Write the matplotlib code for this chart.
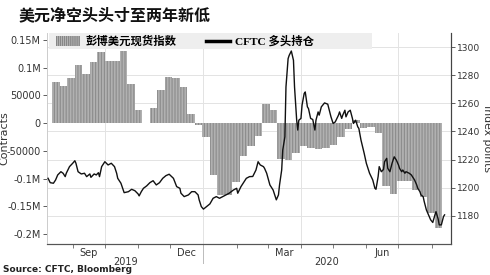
import matplotlib
matplotlib.use("Agg")
import matplotlib.pyplot as plt
import matplotlib.dates as mdates
import matplotlib.transforms as mtransforms
from matplotlib.patches import Patch, Rectangle
from matplotlib.lines import Line2D
import pandas as pd

# ---------------- data ----------------
title = "美元净空头头寸至两年新低"
source = "Source: CFTC, Bloomberg"
bar_label = "彭博美元现货指数"
line_label = "CFTC 多头持仓"

# weekly bars (contracts), first week starts 2019-08-13
bar_start = "2019-08-13"
bar_values = [74500, 67300, 80700, 104900, 88500, 109800, 129100, 112700, 112700, 130900,
              70900, 24400, 500, 28000, 59500, 83600, 80700, 65500, 15800, -4000,
              -25500, -94000, -130000, -130000, -107000, -59000, -42000, -23000, 34000, 24400,
              -64700, -66500, -54000, -42000, -44000, -46500, -45500, -39000, -25000, -10000,
              6000, -8400, -7300, -18200, -113000, -127000, -104000, -104000, -121000, -133000,
              -161700, -189000]
bar_dates = pd.date_range(bar_start, periods=len(bar_values), freq="7D")

line_dates = [
    "2019-08-09", "2019-08-11", "2019-08-14", "2019-08-16", "2019-08-18", "2019-08-21",
    "2019-08-23", "2019-08-25", "2019-08-26", "2019-08-29", "2019-09-01", "2019-09-03",
    "2019-09-04", "2019-09-06", "2019-09-09", "2019-09-12", "2019-09-14", "2019-09-17",
    "2019-09-18", "2019-09-21", "2019-09-23", "2019-09-25", "2019-09-26", "2019-09-28",
    "2019-10-01", "2019-10-04", "2019-10-07", "2019-10-10", "2019-10-12", "2019-10-13",
    "2019-10-16", "2019-10-19", "2019-10-23", "2019-10-26", "2019-10-29", "2019-11-01",
    "2019-11-02", "2019-11-04", "2019-11-06", "2019-11-09", "2019-11-12", "2019-11-15",
    "2019-11-18", "2019-11-21", "2019-11-24", "2019-11-27", "2019-11-30", "2019-12-04",
    "2019-12-07", "2019-12-10", "2019-12-11", "2019-12-14", "2019-12-18", "2019-12-21",
    "2019-12-24", "2019-12-27", "2019-12-28", "2019-12-30", "2020-01-01", "2020-01-04",
    "2020-01-07", "2020-01-10", "2020-01-13", "2020-01-16", "2020-01-19", "2020-01-22",
    "2020-01-25", "2020-01-29", "2020-02-01", "2020-02-02", "2020-02-05", "2020-02-10",
    "2020-02-13", "2020-02-16", "2020-02-19", "2020-02-21", "2020-02-23", "2020-02-26",
    "2020-02-27", "2020-02-29", "2020-03-03", "2020-03-06", "2020-03-09", "2020-03-11",
    "2020-03-12", "2020-03-14", "2020-03-15", "2020-03-17", "2020-03-18", "2020-03-20",
    "2020-03-21", "2020-03-23", "2020-03-25", "2020-03-26", "2020-03-28", "2020-03-29",
    "2020-03-30", "2020-04-01", "2020-04-02", "2020-04-04", "2020-04-05", "2020-04-07",
    "2020-04-08", "2020-04-10", "2020-04-12", "2020-04-14", "2020-04-15", "2020-04-17",
    "2020-04-18", "2020-04-20", "2020-04-23", "2020-04-26", "2020-04-29", "2020-05-01",
    "2020-05-03", "2020-05-06", "2020-05-07", "2020-05-09", "2020-05-10", "2020-05-12",
    "2020-05-13", "2020-05-15", "2020-05-17", "2020-05-19", "2020-05-20", "2020-05-22",
    "2020-05-24", "2020-05-25", "2020-05-27", "2020-05-30", "2020-06-01", "2020-06-04",
    "2020-06-07", "2020-06-09", "2020-06-10", "2020-06-12", "2020-06-13", "2020-06-15",
    "2020-06-17", "2020-06-18", "2020-06-20", "2020-06-21", "2020-06-23", "2020-06-25",
    "2020-06-27", "2020-06-29", "2020-07-01", "2020-07-02", "2020-07-04", "2020-07-05",
    "2020-07-07", "2020-07-08", "2020-07-11", "2020-07-13", "2020-07-15", "2020-07-16",
    "2020-07-18", "2020-07-19", "2020-07-21", "2020-07-22", "2020-07-24", "2020-07-25",
    "2020-07-27", "2020-07-29", "2020-07-31", "2020-08-02", "2020-08-04", "2020-08-05",
    "2020-08-07", "2020-08-08", "2020-08-10", "2020-08-12", "2020-08-13"]
line_values = [
    1206.7, 1203.6, 1203.2, 1205.5, 1209.1, 1211.4,
    1210.3, 1207.9, 1210.3, 1215.0, 1217.4, 1219.2,
    1217.4, 1211.4, 1209.8, 1210.3, 1207.9, 1209.8,
    1207.4, 1209.8, 1209.1, 1210.7, 1207.9, 1215.0,
    1218.5, 1216.2, 1217.4, 1215.0, 1210.3, 1206.7,
    1203.2, 1196.5, 1197.2, 1198.9, 1197.9, 1195.6,
    1194.2, 1197.2, 1199.6, 1201.3, 1203.6, 1205.0,
    1202.0, 1203.6, 1206.7, 1208.6, 1209.6, 1206.7,
    1200.8, 1199.6, 1196.1, 1193.7, 1194.9, 1197.2,
    1197.2, 1194.9, 1191.4, 1186.6, 1184.8, 1186.6,
    1188.5, 1192.5, 1193.7, 1192.5, 1193.7, 1194.9,
    1196.1, 1198.4, 1199.6, 1196.1, 1200.8, 1206.7,
    1207.9, 1208.0, 1212.6, 1218.5, 1216.2, 1215.0,
    1213.8, 1210.3, 1202.0, 1198.4, 1191.4, 1194.9,
    1202.0, 1212.6, 1226.8, 1236.2, 1271.6, 1291.8,
    1294.1, 1297.2, 1290.6, 1271.6, 1248.0, 1241.0,
    1248.0, 1249.3, 1258.7, 1267.0, 1268.1, 1257.5,
    1256.3, 1249.3, 1248.5, 1241.0, 1248.0, 1253.9,
    1251.6, 1257.5, 1260.3, 1259.4, 1250.4, 1245.7,
    1246.8, 1251.6, 1253.9, 1249.3, 1251.6, 1255.1,
    1250.4, 1253.9, 1255.1, 1249.3, 1245.7, 1248.0,
    1243.3, 1242.2, 1233.9, 1224.4, 1217.4, 1210.3,
    1205.5, 1199.6, 1198.9, 1207.9, 1215.0, 1211.4,
    1213.0, 1218.5, 1220.9, 1213.8, 1211.4, 1217.4,
    1222.0, 1219.7, 1216.2, 1213.8, 1211.4, 1212.6,
    1210.3, 1211.4, 1210.3, 1209.1, 1206.7, 1205.5,
    1202.0, 1199.6, 1197.2, 1194.9, 1193.7, 1190.2,
    1184.3, 1180.7, 1177.2, 1175.3, 1180.7, 1183.0,
    1177.8, 1173.6, 1173.6, 1179.5, 1180.7]

left_ticks = [150000, 100000, 50000, 0, -50000, -100000, -150000, -200000]
left_ticklabels = ["0.15M", "0.1M", "50000", "0", "-50000", "-0.1M", "-0.15M", "-0.2M"]
right_ticks = [1180, 1200, 1220, 1240, 1260, 1280, 1300]
month_labels = ["Sep", "Dec", "Mar", "Jun"]
month_label_dates = ["2019-09-16", "2019-12-16", "2020-03-16", "2020-06-16"]
grid_dates = ["2019-10-01", "2020-01-01", "2020-04-01", "2020-07-01"]
year_labels = ["2019", "2020"]
year_label_dates = ["2019-10-20", "2020-04-25"]
year_boundary = "2020-01-01"

# ---------------- figure ----------------
serif_cjk = ["Liberation Serif", "Noto Sans CJK SC"]
plt.rcParams["font.family"] = ["DejaVu Sans", "Noto Sans CJK SC"]
plt.rcParams["hatch.linewidth"] = 0.45

bar_face = "#868686"
bar_hatch = "#cccccc"

fig = plt.figure(figsize=(4.9, 2.75), dpi=100)
ax = fig.add_axes([0.0959, 0.1127, 0.8245, 0.7673])
ax2 = ax.twinx()

xmin, xmax = pd.Timestamp("2019-08-08"), pd.Timestamp("2020-08-19")
ax.set_xlim(xmin, xmax)
ax.set_ylim(-218000, 162700)
ax2.set_ylim(1160, 1310)

grid_c = "#e3e3e3"
blend = mtransforms.blended_transform_factory(ax.transAxes, ax2.transData)
for v in right_ticks:
    ax.plot([0, 1], [v, v], color=grid_c, lw=0.7, transform=blend, zorder=0)
for d in grid_dates:
    ax.axvline(pd.Timestamp(d), color=grid_c, lw=0.7, zorder=0)

ax.bar(bar_dates, bar_values, width=7, align="edge", color=bar_face,
       edgecolor=bar_hatch, linewidth=0, hatch="|" * 11, zorder=2)
ax2.plot(pd.to_datetime(line_dates), line_values, color="#111111", lw=1.0, zorder=3)

# y axes
ax.set_yticks(left_ticks)
ax.set_yticklabels(left_ticklabels)
ax2.set_yticks(right_ticks)
ax.tick_params(axis="y", labelsize=7, colors="#444444", length=3, width=0.6, pad=1.5,
               labelcolor="#333333")
ax2.tick_params(axis="y", labelsize=6.6, colors="#444444", length=3, width=0.6, pad=1.5,
                labelcolor="#333333")
ax.set_ylabel("Contracts", fontsize=8, color="#333333")
ax.yaxis.set_label_coords(-0.093, 0.5)
ax2.set_ylabel("Index points", fontsize=7.8, color="#333333", rotation=270, va="center")
ax2.yaxis.set_label_coords(1.088, 0.5)

# x axis
ax.xaxis.set_minor_locator(mdates.MonthLocator())
ax.set_xticks(pd.to_datetime(month_label_dates))
ax.set_xticklabels(month_labels)
ax.tick_params(axis="x", which="major", length=0, labelsize=7, colors="#333333", pad=3)
ax.tick_params(axis="x", which="minor", length=3, width=0.6, color="#666666")
xblend = mtransforms.blended_transform_factory(ax.transData, ax.transAxes)
for lab, d in zip(year_labels, year_label_dates):
    ax.text(pd.Timestamp(d), -0.083, lab, transform=xblend, ha="center", va="center",
            fontsize=7, color="#333333")
ax.plot([pd.Timestamp(year_boundary)] * 2, [0, -0.09], transform=xblend, color="#bbbbbb",
        lw=0.7, clip_on=False)

for a in (ax, ax2):
    a.spines["top"].set_visible(False)
    a.spines["left"].set_color("#cccccc")
    a.spines["bottom"].set_color("#555555")
    a.spines["right"].set_color("#444444")
    a.spines["left"].set_linewidth(0.6)
    a.spines["right"].set_linewidth(0.8)
    a.spines["bottom"].set_linewidth(0.8)

# legend band
ax.add_patch(Rectangle((0.005, 0.922), 0.8, 0.078, transform=ax.transAxes,
                       facecolor="#eeeeee", edgecolor="none", zorder=4, clip_on=False))
handles = [Patch(facecolor=bar_face, edgecolor=bar_hatch, hatch="|" * 8, linewidth=0),
           Line2D([], [], color="black", lw=2.5)]
leg = ax2.legend(handles, [bar_label, line_label], loc="upper left",
                 bbox_to_anchor=(0.012, 1.01), ncol=2, frameon=False,
                 prop={"family": serif_cjk, "weight": "bold", "size": 8.2},
                 handlelength=2.1, handleheight=0.9, columnspacing=2.6, handletextpad=0.45,
                 borderaxespad=0)

fig.text(0.037, 0.94, title, fontsize=11.5, fontweight="bold",
         family=serif_cjk, ha="left", va="center", color="#111111")
fig.text(0.006, 0.019, source, fontsize=6.5, fontweight="bold", ha="left", va="center",
         color="#222222")

fig.savefig("out.png", dpi=100)
